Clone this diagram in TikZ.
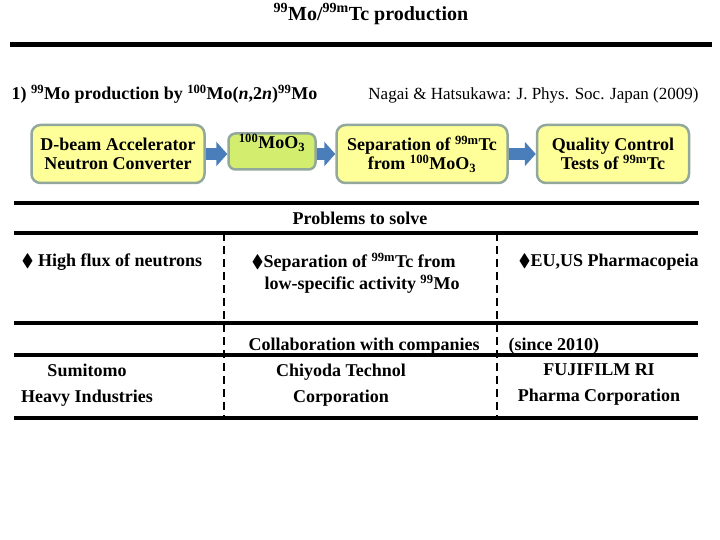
\documentclass[tikz,border=0pt]{standalone}
\usepackage{fontspec}
\setmainfont{Liberation Serif}
\usepackage{amssymb}
\usetikzlibrary{arrows.meta,positioning}
\definecolor{boxyellow}{HTML}{FFFF99}
\definecolor{boxgreen}{HTML}{D3EE6E}
\definecolor{boxedge}{HTML}{93A89C}
\definecolor{arrowblue}{HTML}{4A7EBB}

\begin{document}
\begin{tikzpicture}[x=1pt,y=-1pt,
    font=\fontsize{18}{19}\selectfont\bfseries,
    stage/.style={draw=boxedge, line width=2.5pt, fill=boxyellow, rounded corners=9pt,
      align=center, inner sep=0pt, minimum height=58pt},
    blockarrow/.style={arrowblue, line width=12pt, -{Triangle[length=11pt,width=24pt]}},
    rule/.style={line width=4pt},
    colsep/.style={line width=2.5pt, dash pattern=on 8pt off 5pt},
    firm/.style={align=center, font=\fontsize{18}{26}\selectfont\bfseries},
  ]
    \useasboundingbox (0,0) rectangle (720,540);
    % title and header
    \node[font=\fontsize{20}{22}\selectfont\bfseries] (title) at (371,14) {\textsuperscript{99}Mo/\textsuperscript{99m}Tc production};
    \draw[line width=5pt] (10,45) -- (712,45);
    \node[anchor=west] (method) at (8,94) {1) \textsuperscript{99}Mo production by \textsuperscript{100}Mo(\textit{n},2\textit{n})\textsuperscript{99}Mo};
    \node[anchor=east, font=\fontsize{17}{19}\selectfont\mdseries] (ref) at (702,95) {Nagai \& Hatsukawa: J. Phys. Soc. Japan (2009)};
    % process chain
    \node[stage, minimum width=173pt] (acc) at (118,154) {D-beam Accelerator\\Neutron Converter};
    \node[stage, fill=boxgreen, minimum width=87pt, minimum height=0pt, rounded corners=7pt,
      text height=15pt, text depth=21pt] (moo) at (272,151.5) {\textsuperscript{100}MoO\textsubscript{3}};
    \node[stage, minimum width=171pt] (sep) at (422,154) {Separation of \textsuperscript{99m}Tc\\from \textsuperscript{100}MoO\textsubscript{3}};
    \node[stage, minimum width=152pt] (qc) at (613,154) {Quality Control\\Tests of \textsuperscript{99m}Tc};
    \draw[blockarrow] (acc.east) -- (acc.east -| moo.west);
    \draw[blockarrow] (sep.west -| moo.east) -- (sep.west);
    \draw[blockarrow] (sep.east) -- (qc.west);
    % table
    \draw[rule] (14,203) -- (699,203);
    \node (prob) at (360,218) {Problems to solve};
    \draw[rule] (14,233) -- (698,233);
    \draw[colsep] (224,233) -- (224,418);
    \draw[colsep] (497,233) -- (497,418);
    \node[anchor=west] (flux) at (18,262) {$\blacklozenge$ High flux of neutrons};
    \node[anchor=west, align=left, font=\fontsize{18}{22}\selectfont\bfseries] (lowsa) at (248,273)
      {$\blacklozenge$Separation of \textsuperscript{99m}Tc from\\\hspace*{13pt}low-specific activity \textsuperscript{99}Mo};
    \node[anchor=west] (pharm) at (515,262) {$\blacklozenge$EU,US Pharmacopeia};
    \draw[rule] (14,323) -- (698,323);
    \node[anchor=west] (collab) at (245,346) {Collaboration with companies};
    \node[anchor=west] (since) at (505,346) {(since 2010)};
    \draw[rule] (14,355) -- (698,355);
    \node[firm] (shi) at (87,385) {Sumitomo\\Heavy Industries};
    \node[firm] (chiyoda) at (341,385) {Chiyoda Technol\\Corporation};
    \node[firm] (fuji) at (599,385) {FUJIFILM RI\\Pharma Corporation};
    \draw[rule] (14,418) -- (698,418);
\end{tikzpicture}
\end{document}
